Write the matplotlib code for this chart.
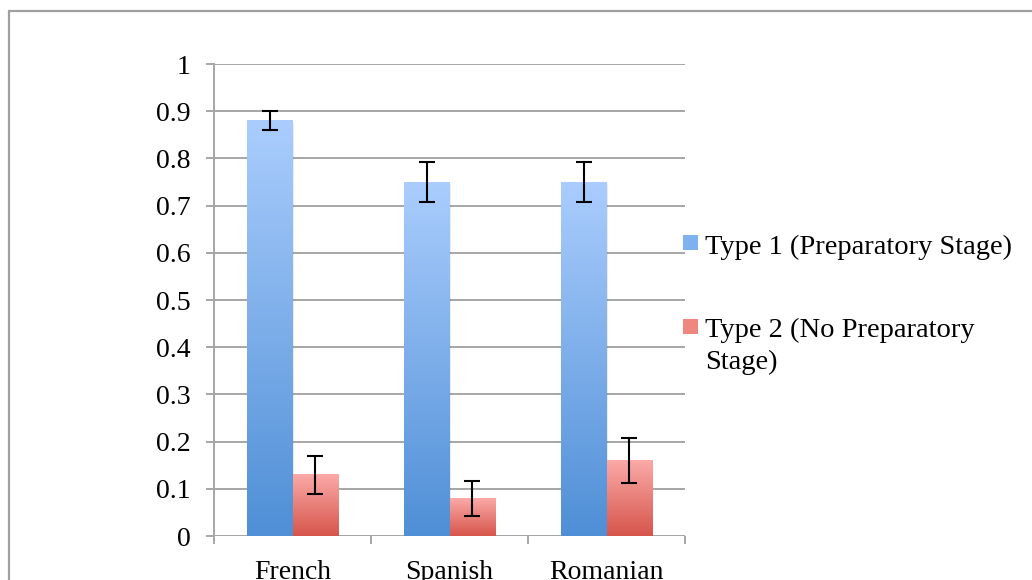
import matplotlib.pyplot as plt
from matplotlib.colors import LinearSegmentedColormap
from matplotlib.patches import Rectangle
import numpy as np

# data
categories = ['French', 'Spanish', 'Romanian']
type1 = [0.88, 0.75, 0.75]
type1_err = [0.02, 0.043, 0.042]
type2 = [0.13, 0.08, 0.16]
type2_err = [0.04, 0.037, 0.048]
series_names = ['Type 1 (Preparatory Stage)', 'Type 2 (No Preparatory\nStage)']

plt.rcParams['font.family'] = ['Liberation Serif', 'DejaVu Serif']

blue_cmap = LinearSegmentedColormap.from_list('blue', ['#4f8fd6', '#aacdfd'])
red_cmap = LinearSegmentedColormap.from_list('red', ['#d6554b', '#fbaaa8'])

W, H = 1032, 580
fig = plt.figure(figsize=(W / 100, H / 100), dpi=100)
ax = fig.add_axes([214 / W, 1 - 536 / H, (685 - 214) / W, (536 - 64) / H])

# outer chart border (cropped on the right and bottom)
fig.patches.append(Rectangle((9 / W, -0.2), 1.2, 1 - 11 / H + 0.2, transform=fig.transFigure,
                             fill=False, edgecolor='#a0a0a0', linewidth=1.6, zorder=0))

x = np.arange(len(categories))
w = 0.29
grad = np.linspace(0, 1, 256).reshape(-1, 1)

bars1 = ax.bar(x - w / 2, type1, w, color='none', zorder=3)
bars2 = ax.bar(x + w / 2, type2, w, color='none', zorder=3)

for bars, cmap in [(bars1, blue_cmap), (bars2, red_cmap)]:
    for b in bars:
        x0, h, bw = b.get_x(), b.get_height(), b.get_width()
        # faint shadow
        ax.add_patch(Rectangle((x0 + 0.008, 0), bw, h - 0.004, facecolor='#000000', alpha=0.08,
                               edgecolor='none', zorder=2.5))
        ax.imshow(grad, extent=[x0, x0 + bw, 0, h], origin='lower', aspect='auto',
                  cmap=cmap, zorder=3, interpolation='bilinear')

ax.errorbar(x - w / 2, type1, yerr=type1_err, fmt='none', ecolor='black', elinewidth=1.5,
            capsize=6, capthick=1.5, zorder=5)
ax.errorbar(x + w / 2, type2, yerr=type2_err, fmt='none', ecolor='black', elinewidth=1.5,
            capsize=6, capthick=1.5, zorder=5)

ax.set_xlim(-0.5, 2.5)
ax.set_ylim(0, 1)
ax.set_yticks(np.arange(0, 1.01, 0.1))
ax.set_yticklabels(['0', '0.1', '0.2', '0.3', '0.4', '0.5', '0.6', '0.7', '0.8', '0.9', '1'])
ax.set_xticks(x)
ax.set_xticklabels(categories)
ax.set_xticks([-0.5, 0.5, 1.5, 2.5], minor=True)

ax.grid(axis='y', color='#a6a6a6', linewidth=1.4, zorder=1)
ax.set_axisbelow(True)
for s in ['top', 'right', 'bottom']:
    ax.spines[s].set_visible(False)
ax.spines['left'].set_color('#a6a6a6')
ax.spines['left'].set_linewidth(1.4)
ax.axhline(0, color='#a6a6a6', linewidth=1.4, zorder=1)

ax.tick_params(axis='y', length=6, width=1.4, color='#a6a6a6', pad=11, labelsize=20)
ax.tick_params(axis='x', which='major', length=0, pad=17, labelsize=20)
ax.tick_params(axis='x', which='minor', length=6, width=1.4, color='#a6a6a6')

# legend, drawn by hand so the square sits beside the first text line
legend_colors = ['#7fb1ee', '#ef8680']
legend_tops = [235, 319]
legend_text_tops = [235, 318]
for name, col, top, ttop in zip(series_names, legend_colors, legend_tops, legend_text_tops):
    fig.patches.append(Rectangle((683 / W, 1 - (top + 15) / H), 15 / W, 15 / H,
                                 transform=fig.transFigure, facecolor=col, edgecolor='none'))
    fig.text(705 / W, 1 - ttop / H, name, fontsize=20.5, va='top', ha='left',
             linespacing=1.33)

fig.savefig('out.png', dpi=100)
